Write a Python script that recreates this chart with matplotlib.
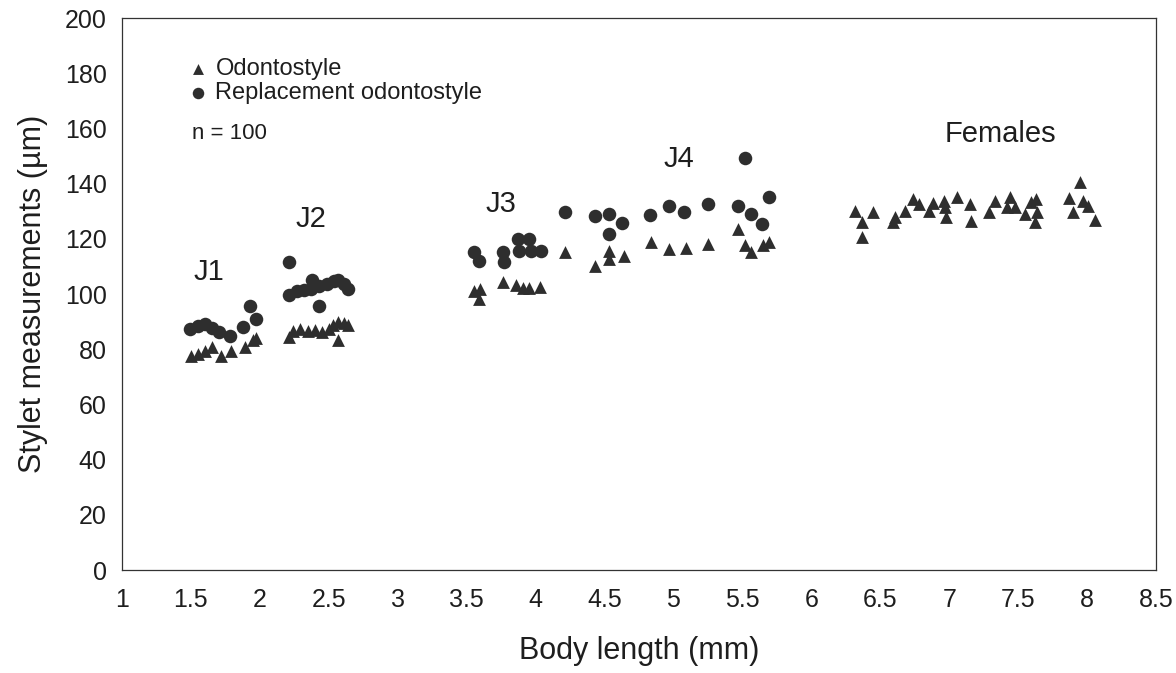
import numpy as np
import matplotlib
matplotlib.use("Agg")
import matplotlib.pyplot as plt

plt.rcParams['font.family'] = ['Liberation Sans', 'DejaVu Sans']

# odontostyle (triangles)
odonto_x = [1.50, 1.55, 1.60, 1.65, 1.72, 1.79, 1.89, 1.95, 1.97,
            2.21, 2.24, 2.29, 2.35, 2.40, 2.45, 2.50, 2.53, 2.57, 2.61, 2.64, 2.57,
            3.55, 3.60, 3.59, 3.76, 3.86, 3.91, 3.95, 4.03,
            4.21, 4.53, 4.53, 4.43, 4.64, 4.84, 4.97, 5.09, 5.25, 5.47, 5.52, 5.56, 5.65, 5.69,
            6.32, 6.45, 6.37, 6.37, 6.59, 6.61, 6.68, 6.74, 6.78, 6.85, 6.88, 6.96, 6.97,
            6.98, 7.06, 7.15, 7.16, 7.29, 7.33, 7.44, 7.42, 7.48, 7.59, 7.63, 7.62, 7.55,
            7.64, 7.95, 7.87, 7.97, 7.90, 8.01, 8.06]
odonto_y = [77.5, 78.3, 79.3, 80.8, 77.5, 79.3, 80.8, 83.3, 84.1,
            84.4, 86.6, 87.3, 86.6, 87.0, 86.2, 87.3, 88.8, 89.9, 89.5, 88.8, 83.3,
            101.1, 101.8, 98.2, 104.3, 103.3, 102.2, 102.2, 102.5,
            115.2, 115.6, 112.7, 110.1, 113.8, 118.8, 116.3, 116.7, 118.1, 123.6, 117.8, 115.2, 117.8, 118.8,
            130.1, 129.7, 126.1, 120.7, 126.1, 127.9, 130.1, 134.4, 132.6, 130.1, 133.0, 133.7, 131.5,
            127.9, 135.1, 132.6, 126.4, 129.7, 133.7, 135.1, 131.5, 131.5, 133.3, 134.4, 126.1, 129.0,
            129.7, 140.6, 134.8, 133.7, 129.7, 131.9, 126.8]

# replacement odontostyle (circles)
repl_x = [1.49, 1.55, 1.60, 1.65, 1.70, 1.78, 1.88, 1.93, 1.97,
          2.21, 2.21, 2.27, 2.32, 2.37, 2.43, 2.38, 2.49, 2.54, 2.57, 2.61, 2.64, 2.43,
          3.55, 3.59, 3.76, 3.77, 3.87, 3.95, 3.88, 3.97, 4.04,
          4.21, 4.43, 4.53, 4.63, 4.53, 4.83, 4.97, 5.08, 5.25, 5.47, 5.56, 5.64, 5.69, 5.52]
repl_y = [87.3, 88.4, 89.1, 87.7, 86.2, 84.8, 88.0, 95.7, 90.9,
          111.6, 99.6, 101.1, 101.4, 101.8, 102.9, 105.1, 103.6, 104.7, 105.1, 103.6, 101.8, 95.7,
          115.2, 112.0, 115.2, 111.6, 119.9, 119.9, 115.6, 115.6, 115.6,
          129.7, 128.3, 129.0, 125.7, 121.7, 128.6, 131.9, 129.7, 132.6, 131.9, 129.0, 125.4, 135.1, 149.3]

stage_labels = ["J1", "J2", "J3", "J4", "Females"]
stage_x = [1.63, 2.37, 3.75, 5.04, 7.37]
stage_y = [108, 127, 132.6, 149, 158]

x_ticks = np.arange(1, 8.51, 0.5)
y_ticks = np.arange(0, 201, 20)

col = '#2e2e2e'
txt = '#1e1e1e'

fig = plt.figure(figsize=(11.76, 6.73), dpi=100)
ax = fig.add_axes([122/1176, 1 - 570/673, (1156-122)/1176, (570-18)/673])

ax.scatter(odonto_x, odonto_y, marker='^', s=85, color=col, linewidths=0,
           label='Odontostyle', zorder=3)
ax.scatter(repl_x, repl_y, marker='o', s=95, color=col, linewidths=0,
           label='Replacement odontostyle', zorder=3)

ax.set_xlim(1, 8.5)
ax.set_ylim(0, 200)
ax.set_xticks(x_ticks)
ax.set_xticklabels(['{:g}'.format(v) for v in x_ticks])
ax.set_yticks(y_ticks)
ax.tick_params(axis='x', length=0, labelsize=18, colors=txt, pad=13)
ax.tick_params(axis='y', length=0, labelsize=18, colors=txt, pad=11)
for s in ax.spines.values():
    s.set_linewidth(0.9)
    s.set_color('#333333')

ax.set_xlabel('Body length (mm)', fontsize=22, color=txt, labelpad=17)
ax.set_ylabel('Stylet measurements (µm)', fontsize=22, color=txt, labelpad=12)

for lab, lx, ly in zip(stage_labels, stage_x, stage_y):
    ax.text(lx, ly, lab, fontsize=21, ha='center', va='center', color=txt)

ax.text(1.51, 158, 'n = 100', fontsize=16, ha='left', va='center', color=txt)

leg = ax.legend(loc='upper left', bbox_to_anchor=(0.055, 0.945), frameon=False,
                fontsize=17, handletextpad=0.35, labelspacing=0.1, borderaxespad=0,
                handlelength=0.8, markerscale=0.85)
for t in leg.get_texts():
    t.set_color(txt)

fig.savefig('out.png', dpi=100)
